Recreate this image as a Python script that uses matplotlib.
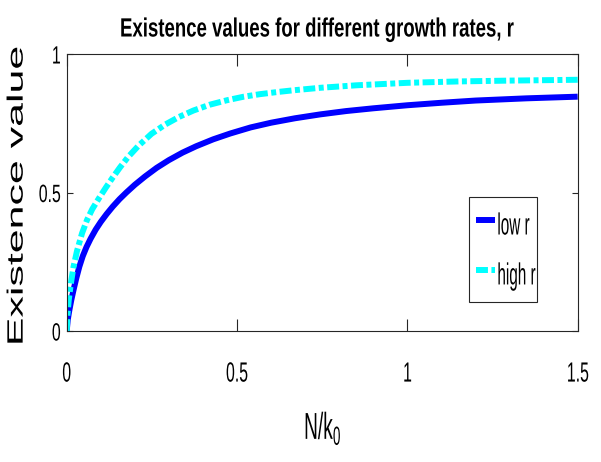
import matplotlib
matplotlib.use("Agg")
import matplotlib.pyplot as plt
import matplotlib.patheffects as patheffects
from matplotlib.transforms import Affine2D

# existence value vs N/k0
low_x = [0, 0.003, 0.007, 0.0135, 0.02, 0.028, 0.037, 0.047, 0.058, 0.07, 0.085,
         0.1, 0.117, 0.135, 0.155, 0.175, 0.2, 0.23, 0.264, 0.3, 0.34, 0.38,
         0.43, 0.48, 0.54, 0.6, 0.67, 0.744, 0.82, 0.9, 1.0, 1.1, 1.2, 1.35, 1.5]
low_y = [0, 0.04, 0.07, 0.112, 0.148, 0.19, 0.232, 0.27, 0.303, 0.333, 0.366,
         0.394, 0.422, 0.449, 0.476, 0.5, 0.528, 0.558, 0.589, 0.617, 0.644, 0.667,
         0.692, 0.713, 0.735, 0.752, 0.768, 0.782, 0.794, 0.804, 0.815, 0.824, 0.832, 0.84, 0.846]

high_x = [0, 0.002, 0.006, 0.012, 0.02, 0.03, 0.045, 0.06, 0.075, 0.094, 0.115,
          0.135, 0.156, 0.18, 0.21, 0.249, 0.29, 0.33, 0.372, 0.42, 0.47, 0.52,
          0.567, 0.62, 0.665, 0.744, 0.85, 1.0, 1.15, 1.3, 1.5]
high_y = [0, 0.055, 0.112, 0.17, 0.232, 0.288, 0.353, 0.402, 0.44, 0.478, 0.518,
          0.554, 0.59, 0.628, 0.668, 0.712, 0.746, 0.773, 0.796, 0.817, 0.833, 0.846,
          0.855, 0.863, 0.869, 0.878, 0.887, 0.896, 0.901, 0.904, 0.907]

series_labels = ["low r", "high r"]
x_ticks = [0, 0.5, 1, 1.5]
x_ticklabels = ["0", "0.5", "1", "1.5"]
y_ticks = [0, 0.5, 1]
y_ticklabels = ["0", "0.5", "1"]


class Squeeze(patheffects.AbstractPathEffect):
    """Scale text glyphs along the text direction."""

    def __init__(self, sx, anchor=0.5):
        super().__init__()
        self.sx = sx
        self.anchor = anchor

    def draw_path(self, renderer, gc, tpath, affine, rgbFace=None):
        ext = tpath.get_extents()
        x0 = ext.x0 + self.anchor * ext.width
        scale = Affine2D().translate(-x0, 0).scale(self.sx, 1).translate(x0, 0)
        renderer.draw_path(gc, tpath, scale + affine, rgbFace)


plt.rcParams['font.family'] = ['Liberation Sans', 'DejaVu Sans']
plt.rcParams['mathtext.default'] = 'regular'
plt.rcParams['lines.scale_dashes'] = False

fig = plt.figure(figsize=(6.01, 4.62), dpi=100, facecolor='w')
ax = fig.add_axes([0.111, 0.2835, 0.8502, 0.5996])

ax.plot(low_x, low_y, color='#0000ff', lw=4.3, solid_capstyle='butt', label=series_labels[0])
ax.plot(high_x, high_y, color='#00ffff', lw=4.3, linestyle=(0, (8.6, 2.5, 3.6, 2.5)),
        label=series_labels[1])

ax.set_xlim(0, 1.5)
ax.set_ylim(0, 1)
ax.set_xticks(x_ticks)
ax.set_xticklabels(x_ticklabels)
ax.set_yticks(y_ticks)
ax.set_yticklabels(y_ticklabels)

axis_color = '#262626'
for sp in ax.spines.values():
    sp.set_color(axis_color)
    sp.set_linewidth(0.8)
ax.tick_params(axis='x', direction='in', top=True, length=8.6, width=0.8,
               color=axis_color, labelsize=20, pad=22)
ax.tick_params(axis='y', direction='in', right=True, length=4, width=0.8,
               color=axis_color, labelsize=18, pad=4)
for lab in ax.get_xticklabels():
    lab.set_path_effects([Squeeze(0.57)])
for lab in ax.get_yticklabels():
    lab.set_path_effects([Squeeze(0.633, anchor=1.0)])

title = ax.set_title('Existence values for different growth rates, r', fontsize=19,
                     fontweight='bold', pad=12.6, x=0.49)
title.set_path_effects([Squeeze(0.705)])

xlab = ax.set_xlabel(r'N/k$_0$', fontsize=27, va='baseline')
ax.xaxis.set_label_coords(0.5, -0.39)
xlab.set_path_effects([Squeeze(0.51)])

ylab = ax.set_ylabel('Existence value', fontsize=16, va='center')
ax.yaxis.set_label_coords(-0.097, 0.49)
ylab.set_path_effects([Squeeze(1.93)])

leg = ax.legend(loc='upper left', bbox_to_anchor=(0.787, 0.108, 0.133, 0.375),
                mode='expand', borderaxespad=0, fontsize=22, handlelength=0.6,
                handletextpad=0.05, borderpad=0.25, labelspacing=0.35,
                handleheight=1.6, fancybox=False, framealpha=1)
leg.get_frame().set_edgecolor(axis_color)
leg.get_frame().set_linewidth(0.8)
for t in leg.get_texts():
    t.set_path_effects([Squeeze(0.5, anchor=0.0)])

fig.savefig('out.png', dpi=100, facecolor='w')
